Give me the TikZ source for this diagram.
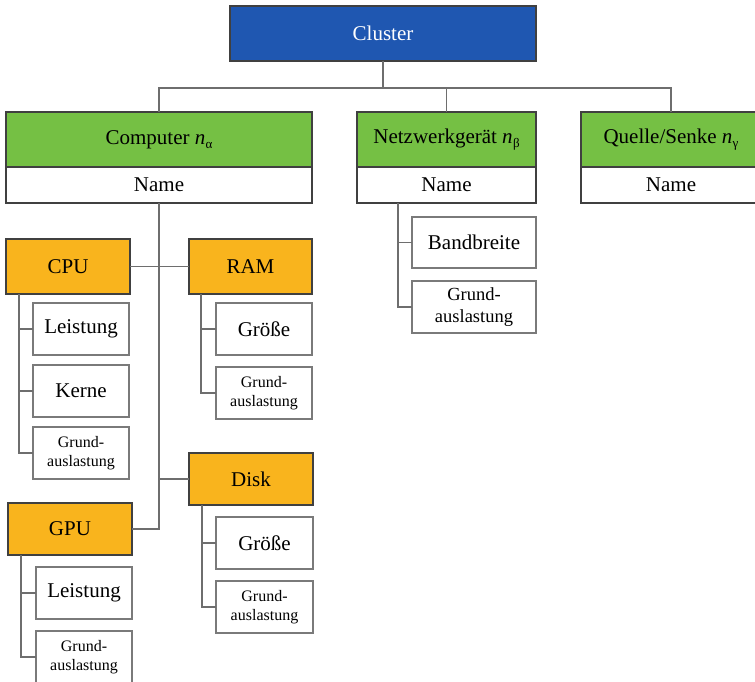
\documentclass[tikz,border=0pt]{standalone}
\usepackage{fontspec}
\setmainfont{Liberation Serif}
\definecolor{clblue}{HTML}{1F57B1}
\definecolor{clgreen}{HTML}{75C044}
\definecolor{clorange}{HTML}{F9B41D}
\definecolor{bordark}{HTML}{404040}
\definecolor{borgray}{HTML}{7A7A7A}
\definecolor{linegray}{HTML}{6E6E6E}
\newcommand{\lowsub}[1]{\kern0.3pt\raisebox{-4pt}{\fontsize{13}{13}\selectfont #1}}
\begin{document}
\begin{tikzpicture}[x=1pt,y=-1pt,
  base/.style={anchor=north west, inner sep=0pt, outer sep=0pt, line width=1.1pt, align=center},
  bluebox/.style={base, draw=bordark, fill=clblue, text=white, font=\fontsize{21}{25}\selectfont},
  greenbox/.style={base, draw=bordark, fill=clgreen, font=\fontsize{21}{25}\selectfont},
  orangebox/.style={base, draw=bordark, fill=clorange, font=\fontsize{21}{25}\selectfont},
  namebox/.style={base, draw=bordark, fill=white, font=\fontsize{21}{25}\selectfont},
  attrbox/.style={base, draw=borgray, fill=white, font=\fontsize{21}{25}\selectfont},
  smallattr/.style={base, draw=borgray, fill=white, font=\fontsize{16}{18.5}\selectfont},
  midattr/.style={base, draw=borgray, fill=white, font=\fontsize{18.5}{21.5}\selectfont},
  conn/.style={draw=linegray, line width=1.1pt}
]
\useasboundingbox (0,0) rectangle (755,682);

% top
\node[bluebox, minimum width=306pt, minimum height=55pt] (cl) at (230,6) {Cluster};
\coordinate (bus) at (383,88);

\node[greenbox, minimum width=306pt, minimum height=55pt] (comp) at (6,112) {Computer \textit{n}\lowsub{α}};
\node[namebox, minimum width=306pt, minimum height=36pt] (compname) at (6,167) {Name};

\node[greenbox, minimum width=179pt, minimum height=55pt] (nw) at (357,112) {Netzwerkgerät \textit{n}\lowsub{β}};
\node[namebox, minimum width=179pt, minimum height=36pt] (nwname) at (357,167) {Name};

\node[greenbox, minimum width=180pt, minimum height=55pt] (qs) at (581,112) {Quelle/Senke \textit{n}\lowsub{γ}};
\node[namebox, minimum width=180pt, minimum height=36pt] (qsname) at (581,167) {Name};

% Netzwerk children
\node[attrbox, minimum width=124pt, minimum height=51pt] (bw) at (412,217) {Bandbreite};
\node[midattr, minimum width=124pt, minimum height=52pt] (nwg) at (412,281) {Grund-\\auslastung};

% CPU
\node[orangebox, minimum width=124pt, minimum height=55pt] (cpu) at (6,239) {CPU};
\node[attrbox, minimum width=96pt, minimum height=52pt] (cpul) at (33,303) {Leistung};
\node[attrbox, minimum width=96pt, minimum height=52pt] (cpuk) at (33,365) {Kerne};
\node[smallattr, minimum width=96pt, minimum height=52pt] (cpug) at (33,427) {Grund-\\auslastung};

% RAM
\node[orangebox, minimum width=123pt, minimum height=55pt] (ram) at (189,239) {RAM};
\node[attrbox, minimum width=96pt, minimum height=52pt] (ramgr) at (216,303) {Größe};
\node[smallattr, minimum width=96pt, minimum height=52pt] (ramg) at (216,367) {Grund-\\auslastung};

% Disk
\node[orangebox, minimum width=124pt, minimum height=52pt] (disk) at (189,453) {Disk};
\node[attrbox, minimum width=97pt, minimum height=52pt] (diskgr) at (216,517) {Größe};
\node[smallattr, minimum width=97pt, minimum height=52pt] (diskg) at (216,581) {Grund-\\auslastung};

% GPU
\node[orangebox, minimum width=124pt, minimum height=52pt] (gpu) at (8,503) {GPU};
\node[attrbox, minimum width=96pt, minimum height=52pt] (gpul) at (36,567) {Leistung};
\node[smallattr, minimum width=96pt, minimum height=52pt] (gpug) at (36,631) {Grund-\\auslastung};

% connectors top level
\draw[conn] (cl.south) -- (cl.south |- bus);
\draw[conn] (comp.north) -- (comp.north |- bus) -- (qs.north |- bus) -- (qs.north);
\draw[conn] (nw.north) -- (nw.north |- bus);

% computer spine
\draw[conn] (compname.south) |- (gpu.east);
\draw[conn] (cpu.east) -- (ram.west);
\draw[conn] (disk.west) -- (disk.west -| compname.south);

% children
\draw[conn] ([xshift=41pt]nwname.south west) |- (bw.west);
\draw[conn] ([xshift=41pt]nwname.south west) |- (nwg.west);

\draw[conn] ([xshift=13pt]cpu.south west) |- (cpul.west);
\draw[conn] ([xshift=13pt]cpu.south west) |- (cpuk.west);
\draw[conn] ([xshift=13pt]cpu.south west) |- (cpug.west);

\draw[conn] ([xshift=12pt]ram.south west) |- (ramgr.west);
\draw[conn] ([xshift=12pt]ram.south west) |- (ramg.west);

\draw[conn] ([xshift=13pt]disk.south west) |- (diskgr.west);
\draw[conn] ([xshift=13pt]disk.south west) |- (diskg.west);

\draw[conn] ([xshift=13pt]gpu.south west) |- (gpul.west);
\draw[conn] ([xshift=13pt]gpu.south west) |- (gpug.west);
\end{tikzpicture}
\end{document}
